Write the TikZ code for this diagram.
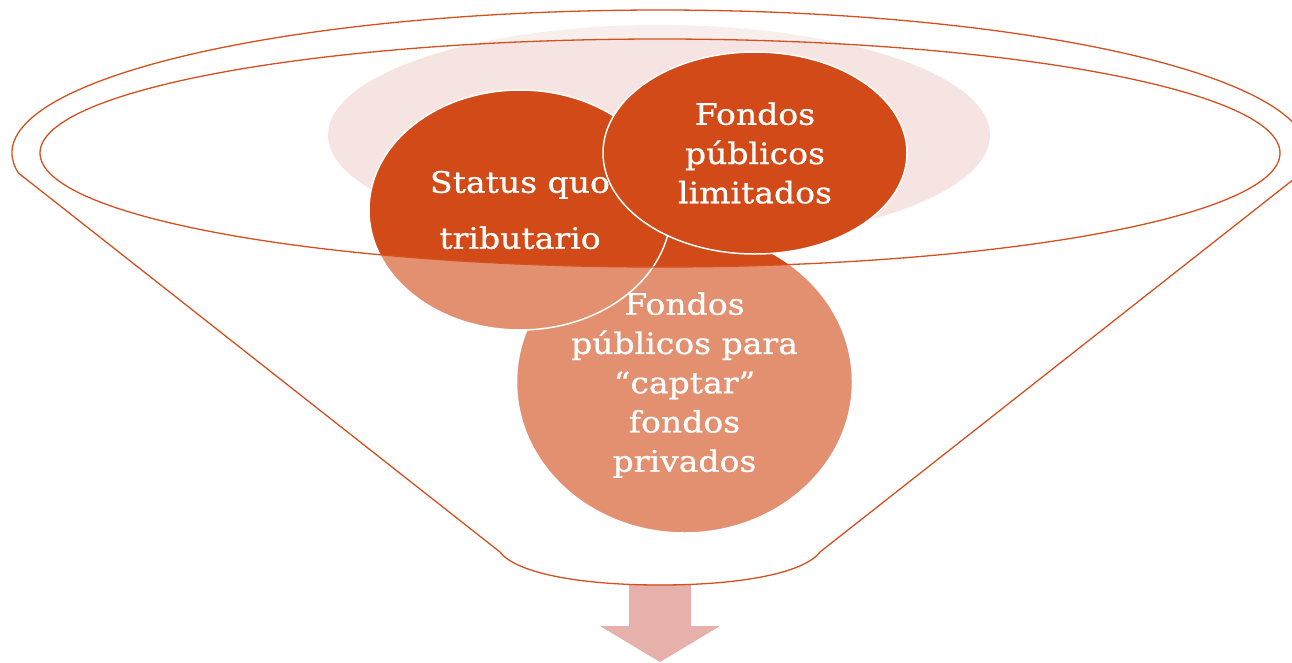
\documentclass[tikz,border=0pt]{standalone}
\usepackage{fontspec}
\setmainfont{DejaVu Serif}[FakeStretch=1.12,FakeBold=0.8]
\usetikzlibrary{shapes.geometric}
\definecolor{darkor}{RGB}{210,74,24}
\definecolor{lineor}{RGB}{212,80,30}
\definecolor{pinkbg}{RGB}{245,228,225}
\definecolor{arrowc}{RGB}{230,177,170}
\begin{document}
\begin{tikzpicture}[x=1pt,y=-1pt,
  blob/.style={ellipse, fill=darkor, draw=white, line width=1.5pt, inner sep=0pt, text=white, align=center},
  funnelline/.style={draw=lineor, line width=1.3pt},
  txt/.style={font=\fontsize{29.5pt}{39.25pt}\selectfont}]
\useasboundingbox (0,0) rectangle (1292,662);
% light background ellipse
\fill[pinkbg] (659,135) ellipse[x radius=331, y radius=110];
% circles
\node[blob, txt, text depth=0pt, minimum width=336pt, minimum height=302pt] (c3) at (684.5,382)
  {Fondos\\públicos para\\“captar”\\fondos\\privados};
\node[blob, font=\fontsize{29.5pt}{56pt}\selectfont, minimum width=302pt, minimum height=240pt] (c1) at (520,210)
  {Status quo\\tributario};
\node[blob, txt, minimum width=304pt, minimum height=202pt] (c2) at (755,153)
  {Fondos\\públicos\\limitados};
% arrow
\coordinate (fb) at (660,585);
\fill[arrowc] (629,584) -- (691,584) -- (691,626) -- (720,626) -- (660,662) -- (600,626) -- (629,626) -- cycle;
% semi-transparent funnel body
\fill[white, fill opacity=0.39, even odd rule]
  (18.4,173) arc[start angle=171.96, end angle=368.04, x radius=648, y radius=143]
  -- (820,552) .. controls (805,572) and (745,585) .. (fb)
  .. controls (575,585) and (515,572) .. (500,552) -- cycle
  (660,153) ellipse[x radius=620, y radius=114];
% funnel outline
\draw[funnelline]
  (18.4,173) arc[start angle=171.96, end angle=368.04, x radius=648, y radius=143]
  -- (820,552) .. controls (805,572) and (745,585) .. (fb)
  .. controls (575,585) and (515,572) .. (500,552) -- cycle;
\draw[funnelline] (660,153) ellipse[x radius=620, y radius=114];
\end{tikzpicture}
\end{document}
